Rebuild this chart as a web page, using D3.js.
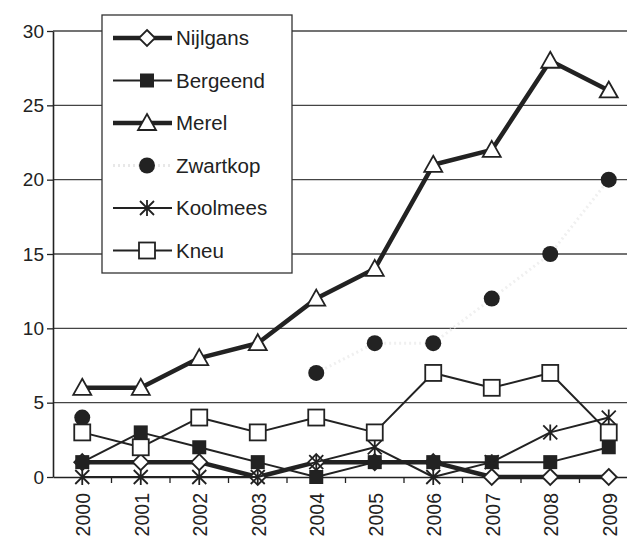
<!DOCTYPE html>
<html lang="nl">
<head>
<meta charset="utf-8">
<script src="https://d3js.org/d3.v7.min.js"></script>
<style>
  body { margin: 0; background: #fff; }
  text { font-family: "Liberation Sans", Arial, sans-serif; fill: #222; }
</style>
</head>
<body>
<div id="chart"></div>
<script>
var years = ["2000", "2001", "2002", "2003", "2004", "2005", "2006", "2007", "2008", "2009"];
var yTicks = [0, 5, 10, 15, 20, 25, 30];

var nijlgans  = [1, 1, 1, 0, 1, 1, 1, 0, 0, 0];
var bergeend  = [1, 3, 2, 1, 0, 1, 1, 1, 1, 2];
var merel     = [6, 6, 8, 9, 12, 14, 21, 22, 28, 26];
var zwartkop  = [4, null, null, null, 7, 9, 9, 12, 15, 20];
var koolmees  = [0, 0, 0, 0, 1, 2, 0, 1, 3, 4];
var kneu      = [3, 2, 4, 3, 4, 3, 7, 6, 7, 3];

var ink = "#222";

var series = [
  {name: "Nijlgans",  values: nijlgans, line: 4.5, marker: "diamond"},
  {name: "Bergeend",  values: bergeend, line: 2,   marker: "fsquare"},
  {name: "Merel",     values: merel,    line: 4.5, marker: "triangle"},
  {name: "Zwartkop",  values: zwartkop, line: 0,   marker: "circle"},
  {name: "Koolmees",  values: koolmees, line: 2,   marker: "star"},
  {name: "Kneu",      values: kneu,     line: 2,   marker: "osquare"}
];

var W = 627, H = 540;
var svg = d3.select("#chart").append("svg")
  .attr("width", W).attr("height", H);

var x = d3.scaleBand().domain(years).range([53, 638]);
var y = d3.scaleLinear().domain([0, 30]).range([477, 31]);
var cx = function(i) { return x(years[i]) + x.bandwidth() / 2; };

// gridlines
svg.append("g").selectAll("line")
  .data(yTicks.filter(function(d) { return d > 0; }))
  .enter().append("line")
    .attr("x1", 53).attr("x2", W)
    .attr("y1", function(d) { return y(d); })
    .attr("y2", function(d) { return y(d); })
    .attr("stroke", "#444").attr("stroke-width", 1.3);

// faint dotted line of Zwartkop (paints over the grid)
var faint = d3.line()
  .defined(function(d) { return d != null; })
  .x(function(d, i) { return cx(i); })
  .y(function(d) { return y(d); });
svg.append("path")
  .attr("d", faint(zwartkop))
  .attr("fill", "none").attr("stroke", "#f0f0f0")
  .attr("stroke-width", 3).attr("stroke-dasharray", "2,3");

// axes
var yAxis = svg.append("g")
  .attr("transform", "translate(53,0)")
  .call(d3.axisLeft(y).tickValues(yTicks).tickSize(6).tickSizeOuter(0).tickPadding(3));
yAxis.selectAll("text").style("font-size", "19px").attr("fill", ink);

var xAxis = svg.append("g")
  .attr("transform", "translate(0,477)")
  .call(d3.axisBottom(x).tickSize(0).tickSizeOuter(0));
xAxis.selectAll("text")
  .style("font-size", "19.5px").attr("fill", ink)
  .attr("text-anchor", "end")
  .attr("transform", "rotate(-90)")
  .attr("x", -16).attr("y", 1).attr("dy", "0.36em");
// ticks between categories
xAxis.selectAll(".sep")
  .data(years)
  .enter().append("line")
    .attr("x1", function(d) { return x(d) + x.bandwidth(); })
    .attr("x2", function(d) { return x(d) + x.bandwidth(); })
    .attr("y1", 0).attr("y2", 6)
    .attr("stroke", ink).attr("stroke-width", 1.3);
svg.selectAll(".domain").attr("stroke", ink).attr("stroke-width", 1.6);
svg.selectAll(".tick line").attr("stroke", ink).attr("stroke-width", 1.3);

function drawMarker(g, type, px, py) {
  var s;
  if (type === "diamond") {
    g.append("path").attr("d", "M" + px + "," + (py - 8) + "L" + (px + 8) + "," + py +
      "L" + px + "," + (py + 8) + "L" + (px - 8) + "," + py + "Z")
      .attr("fill", "#fff").attr("stroke", ink).attr("stroke-width", 1.8);
  } else if (type === "fsquare") {
    g.append("rect").attr("x", px - 7).attr("y", py - 7).attr("width", 14).attr("height", 14)
      .attr("fill", ink);
  } else if (type === "osquare") {
    g.append("rect").attr("x", px - 8).attr("y", py - 8).attr("width", 16).attr("height", 16)
      .attr("fill", "#fff").attr("stroke", ink).attr("stroke-width", 1.8);
  } else if (type === "triangle") {
    g.append("path").attr("d", "M" + px + "," + (py - 9) + "L" + (px + 9) + "," + (py + 7) +
      "L" + (px - 9) + "," + (py + 7) + "Z")
      .attr("fill", "#fff").attr("stroke", ink).attr("stroke-width", 1.8);
  } else if (type === "circle") {
    g.append("circle").attr("cx", px).attr("cy", py).attr("r", 8).attr("fill", ink);
  } else if (type === "star") {
    s = 7;
    g.append("path").attr("d",
      "M" + (px - s) + "," + (py - s) + "L" + (px + s) + "," + (py + s) +
      "M" + (px + s) + "," + (py - s) + "L" + (px - s) + "," + (py + s) +
      "M" + px + "," + (py - s - 1) + "L" + px + "," + (py + s + 1))
      .attr("stroke", ink).attr("stroke-width", 1.8).attr("fill", "none");
  }
}

var line = d3.line()
  .defined(function(d) { return d != null; })
  .x(function(d, i) { return cx(i); })
  .y(function(d) { return y(d); });

series.forEach(function(s) {
  var g = svg.append("g");
  if (s.line > 0) {
    g.append("path").attr("d", line(s.values))
      .attr("fill", "none").attr("stroke", ink)
      .attr("stroke-width", s.line).attr("stroke-linejoin", "round");
  }
  s.values.forEach(function(v, i) {
    if (v != null) drawMarker(g, s.marker, cx(i), y(v));
  });
});

// legend
var leg = svg.append("g");
leg.append("rect")
  .attr("x", 102).attr("y", 15).attr("width", 190).attr("height", 258)
  .attr("fill", "#fff").attr("stroke", "#333").attr("stroke-width", 1.3);
series.forEach(function(s, i) {
  var ly = 38 + i * 42.5;
  if (s.line > 0) {
    leg.append("line").attr("x1", 113).attr("x2", 172).attr("y1", ly).attr("y2", ly)
      .attr("stroke", ink).attr("stroke-width", s.line);
  } else {
    leg.append("line").attr("x1", 113).attr("x2", 172).attr("y1", ly).attr("y2", ly)
      .attr("stroke", "#e8e8e8").attr("stroke-width", 3).attr("stroke-dasharray", "2,3");
  }
  drawMarker(leg, s.marker, 147, ly);
  leg.append("text").attr("x", 176).attr("y", ly).attr("dy", "0.36em")
    .style("font-size", "20.5px").text(s.name);
});
</script>
</body>
</html>
